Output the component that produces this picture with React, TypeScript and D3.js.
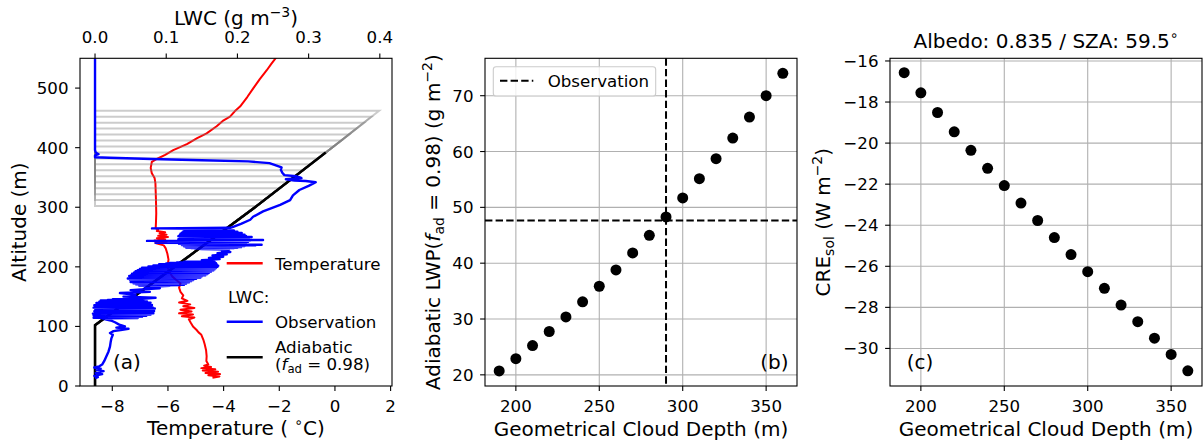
import { useEffect, useRef } from 'react';
import * as d3 from 'd3';

const W = 1203;
const H = 442;
const FONT = '"DejaVu Sans", sans-serif';
const TICK_FS = 16.67;
const LABEL_FS = 20;

// ---- panel (a): vertical profiles, [value, altitude (m)] ----
const temperatureProfile: [number, number][] = [
  [-4.40, 14], [-4.15, 16], [-4.55, 18], [-4.13, 20], [-4.65, 22], [-4.20, 24], [-4.75, 26],
  [-4.30, 28], [-4.80, 30], [-4.45, 32], [-4.70, 34], [-4.55, 36], [-4.62, 42], [-4.61, 50],
  [-4.63, 60], [-4.68, 70], [-4.73, 78], [-4.80, 86], [-4.90, 90], [-4.97, 94], [-5.10, 100],
  [-5.18, 106], [-5.25, 112], [-5.05, 115], [-5.50, 117], [-5.10, 120], [-5.60, 122],
  [-5.15, 125], [-5.55, 128], [-5.05, 131], [-5.45, 134], [-5.20, 137], [-5.60, 140],
  [-5.30, 143], [-5.50, 147], [-5.45, 152], [-5.55, 158], [-5.60, 165], [-5.55, 172],
  [-5.70, 178], [-5.85, 184], [-5.95, 192], [-6.02, 200], [-5.98, 212], [-6.02, 222],
  [-6.08, 231], [-6.15, 236], [-6.45, 240], [-6.05, 242], [-6.50, 244], [-6.10, 246],
  [-6.40, 248], [-6.00, 250], [-6.35, 252], [-6.05, 254], [-6.30, 256], [-6.10, 258],
  [-6.40, 260], [-6.35, 262], [-6.44, 265], [-6.43, 275], [-6.42, 290], [-6.43, 312],
  [-6.45, 340], [-6.48, 349], [-6.58, 357], [-6.62, 366], [-6.58, 376], [-6.40, 381],
  [-6.10, 388], [-5.81, 396], [-5.32, 406], [-4.95, 416], [-4.61, 424], [-4.25, 436],
  [-4.00, 446], [-3.77, 452], [-3.60, 461], [-3.41, 469], [-3.15, 485], [-2.93, 500],
  [-2.70, 515], [-2.45, 530], [-2.28, 541], [-2.10, 552],
];

// observed LWC, split by layer (ascending altitude)
const lwcBelowCloud: [number, number][] = [
  [0.000, 13], [0.004, 15], [-0.001, 17], [0.010, 20], [0.001, 22], [0.012, 25], [0.002, 27],
  [0.008, 29], [-0.001, 31], [0.006, 33], [0.010, 36], [0.013, 42], [0.016, 50], [0.019, 58],
  [0.021, 66], [0.022, 74], [0.023, 80], [0.025, 86], [0.021, 89], [0.026, 92], [0.036, 94],
  [0.047, 96], [0.030, 98], [0.042, 100], [0.034, 103], [0.028, 107], [0.022, 110], [0.010, 113],
];
const lwcLowerLayer: [number, number][] = [
  [0.060, 114], [-0.002, 114.5], [0.050, 115], [0.004, 115.5], [0.066, 116], [0.000, 116.5],
  [0.058, 117], [0.006, 117.5], [0.072, 118], [-0.002, 118.5], [0.064, 119], [0.003, 119.5],
  [0.078, 120], [0.008, 120.5], [0.070, 121], [-0.003, 121.5], [0.082, 122], [0.005, 122.5],
  [0.074, 123], [0.001, 123.5], [0.080, 124], [0.010, 124.5], [0.068, 125], [-0.001, 125.5],
  [0.083, 126], [0.006, 126.5], [0.071, 127], [0.002, 127.5], [0.079, 128], [0.012, 128.5],
  [0.066, 129], [0.000, 129.5], [0.084, 130], [0.007, 130.5], [0.073, 131], [-0.002, 131.5],
  [0.081, 132], [0.009, 132.5], [0.069, 133], [0.003, 133.5], [0.077, 134], [0.011, 134.5],
  [0.064, 135], [-0.001, 135.5], [0.080, 136], [0.008, 136.5], [0.070, 137], [0.004, 137.5],
  [0.075, 138], [0.013, 138.5], [0.062, 139], [0.002, 139.5], [0.078, 140], [0.010, 140.5],
  [0.067, 141], [0.006, 141.5], [0.073, 142], [0.015, 142.5], [0.060, 143], [0.008, 143.5],
  [0.068, 144], [0.018, 144.5], [0.055, 145], [0.025, 145.5], [0.062, 146],
  [0.085, 148], [0.040, 150], [0.057, 153], [0.035, 156], [0.077, 158], [0.050, 161],
  [0.091, 164], [0.070, 166], [0.105, 168],
];
const lwcMiddleLayer: [number, number][] = [
  [0.062, 168.5], [0.118, 169], [0.070, 169.5], [0.125, 170], [0.058, 170.5], [0.112, 171],
  [0.066, 171.5], [0.128, 172], [0.054, 172.5], [0.120, 173], [0.062, 173.5], [0.132, 174],
  [0.050, 174.5], [0.118, 175], [0.060, 175.5], [0.135, 176], [0.052, 176.5], [0.125, 177],
  [0.057, 177.5], [0.138, 178], [0.049, 178.5], [0.130, 179], [0.055, 179.5], [0.142, 180],
  [0.046, 180.5], [0.136, 181], [0.053, 181.5], [0.148, 182], [0.050, 182.5], [0.140, 183],
  [0.056, 183.5], [0.150, 184], [0.048, 184.5], [0.144, 185], [0.055, 185.5], [0.155, 186],
  [0.051, 186.5], [0.147, 187], [0.058, 187.5], [0.158, 188], [0.052, 188.5], [0.150, 189],
  [0.060, 189.5], [0.160, 190], [0.055, 190.5], [0.152, 191], [0.062, 191.5], [0.163, 192],
  [0.057, 192.5], [0.155, 193], [0.064, 193.5], [0.166, 194], [0.060, 194.5], [0.158, 195],
  [0.068, 195.5], [0.168, 196], [0.063, 196.5], [0.160, 197], [0.072, 197.5], [0.170, 198],
  [0.066, 198.5], [0.162, 199], [0.078, 199.5], [0.172, 200], [0.075, 200.5], [0.165, 201],
  [0.085, 201.5], [0.173, 202], [0.082, 202.5], [0.166, 203], [0.092, 203.5], [0.171, 204],
  [0.090, 204.5], [0.163, 205], [0.100, 205.5], [0.170, 206], [0.105, 206.5], [0.160, 207],
  [0.115, 207.5], [0.168, 208], [0.125, 208.5], [0.158, 209], [0.165, 210],
  [0.150, 211], [0.175, 213], [0.160, 215], [0.180, 217], [0.165, 219], [0.185, 221],
  [0.172, 223], [0.190, 225], [0.178, 227], [0.188, 229], [0.150, 230],
];
const lwcUpperLayer: [number, number][] = [
  [0.140, 230.5], [0.195, 231], [0.135, 231.5], [0.200, 232], [0.128, 232.5], [0.205, 233],
  [0.132, 233.5], [0.198, 234], [0.125, 234.5], [0.210, 235], [0.130, 235.5], [0.225, 236],
  [0.122, 236.5], [0.234, 237], [0.128, 237.5], [0.208, 238], [0.118, 238.5], [0.212, 239],
  [0.124, 239.5], [0.205, 240], [0.085, 240.5], [0.200, 241], [0.120, 241.5], [0.215, 242],
  [0.115, 242.5], [0.210, 243], [0.073, 243.5], [0.218, 244], [0.120, 244.5], [0.236, 245],
  [0.125, 245.5], [0.212, 246], [0.117, 246.5], [0.205, 247], [0.122, 247.5], [0.216, 248],
  [0.119, 248.5], [0.208, 249], [0.126, 249.5], [0.220, 250], [0.121, 250.5], [0.202, 251],
  [0.117, 251.5], [0.212, 252], [0.124, 252.5], [0.198, 253], [0.119, 253.5], [0.210, 254],
  [0.127, 254.5], [0.204, 255], [0.120, 255.5], [0.195, 256], [0.125, 256.5], [0.206, 257],
  [0.122, 257.5], [0.192, 258], [0.128, 258.5], [0.200, 259], [0.124, 259.5], [0.188, 260],
  [0.130, 260.5], [0.195, 261], [0.126, 261.5], [0.182, 262], [0.133, 262.5], [0.178, 263],
  [0.128, 263.5], [0.165, 264], [0.080, 264.5], [0.120, 265], [0.190, 265.5], [0.194, 267],
];
const lwcAboveLayer: [number, number][] = [
  [0.205, 272], [0.218, 279], [0.222, 284], [0.236, 293], [0.260, 304], [0.274, 312],
  [0.278, 320], [0.287, 329], [0.300, 336], [0.310, 342], [0.296, 344], [0.280, 345],
  [0.268, 347], [0.290, 349], [0.283, 352], [0.266, 354], [0.263, 358], [0.261, 363],
  [0.262, 367], [0.255, 370], [0.245, 374], [0.215, 377], [0.150, 379], [0.080, 381],
  [0.020, 383], [0.000, 384], [0.000, 387], [0.005, 389], [0.001, 392], [0.000, 396],
  [0.000, 550],
];
const lwcObserved = [...lwcBelowCloud, ...lwcLowerLayer, ...lwcMiddleLayer, ...lwcUpperLayer, ...lwcAboveLayer];

// adiabatic LWC (f_ad = 0.98) above cloud base
const cloudBase = 102;
const adiabaticAlt = [102, 202, 302, 352, 402, 462];
const adiabaticLwc = [0, 0.114, 0.227, 0.281, 0.335, 0.399];
const cloudTops = [302, 312, 322, 332, 342, 352, 362, 372, 382, 392, 402, 412, 422, 432, 442, 452, 462];
const cloudTopLwc = [0.227, 0.238, 0.249, 0.260, 0.270, 0.281, 0.292, 0.303, 0.314, 0.324, 0.335, 0.346, 0.357, 0.367, 0.378, 0.388, 0.399];
const observedTop = 392;
const observedTopLwc = 0.324;

// ---- panels (b) and (c) ----
const cloudDepth = [190, 200, 210, 220, 230, 240, 250, 260, 270, 280, 290, 300, 310, 320, 330, 340, 350, 360];
const adiabaticLwp = [20.7, 22.9, 25.25, 27.76, 30.38, 33.07, 35.87, 38.8, 41.84, 45.0, 48.28, 51.68, 55.14, 58.72, 62.42, 66.18, 70.0, 74.0];
const creSol = [-16.57, -17.55, -18.51, -19.45, -20.35, -21.23, -22.07, -22.92, -23.77, -24.60, -25.43, -26.26, -27.07, -27.89, -28.70, -29.50, -30.29, -31.09];
const observedDepth = 290;
const observedLwp = 47.65;

const tempTicks = [-8, -6, -4, -2, 0, 2];
const lwcTicks = [0, 0.1, 0.2, 0.3, 0.4];
const altTicks = [0, 100, 200, 300, 400, 500];
const depthTicks = [200, 250, 300, 350];
const lwpTicks = [20, 30, 40, 50, 60, 70];
const creTicks = [-30, -28, -26, -24, -22, -20, -18, -16];

const TOP = 58.3;
const BOTTOM = 386;
const PANELS = [80, 485, 890];
const PW = 312;
const TL = 4.9;

const minus = (v: number, digits = 0) => {
  const s = Math.abs(v).toFixed(digits);
  return v < 0 ? '\u2212' + s : s;
};

type Part = { t: string; sup?: boolean; sub?: boolean; it?: boolean };

function rich(sel: any, parts: Part[], fs: number) {
  let shift = 0;
  parts.forEach((p) => {
    const target = p.sup ? -fs * 0.4 : p.sub ? fs * 0.22 : 0;
    const ts = sel.append('tspan').attr('dy', target - shift).text(p.t);
    if (p.sup || p.sub) ts.attr('font-size', fs * 0.7);
    if (p.it) ts.attr('font-style', 'italic');
    shift = target;
  });
}

function frame(g: any, x0: number) {
  g.append('rect')
    .attr('x', x0).attr('y', TOP).attr('width', PW).attr('height', BOTTOM - TOP)
    .attr('fill', 'none').attr('stroke', 'black').attr('stroke-width', 1.1);
}

function bottomAxis(g: any, scale: any, ticks: number[], fmt: (v: number) => string) {
  const a = g.append('g');
  ticks.forEach((v) => {
    const x = scale(v);
    a.append('line').attr('x1', x).attr('x2', x).attr('y1', BOTTOM).attr('y2', BOTTOM + TL)
      .attr('stroke', 'black').attr('stroke-width', 1.1);
    a.append('text').attr('x', x).attr('y', 411.5).attr('text-anchor', 'middle')
      .attr('font-size', TICK_FS).text(fmt(v));
  });
}

function leftAxis(g: any, scale: any, x0: number, ticks: number[], fmt: (v: number) => string) {
  const a = g.append('g');
  ticks.forEach((v) => {
    const y = scale(v);
    a.append('line').attr('x1', x0 - TL).attr('x2', x0).attr('y1', y).attr('y2', y)
      .attr('stroke', 'black').attr('stroke-width', 1.1);
    a.append('text').attr('x', x0 - 11.5).attr('y', y + 6).attr('text-anchor', 'end')
      .attr('font-size', TICK_FS).text(fmt(v));
  });
}

function grid(g: any, xs: any, ys: any, xt: number[], yt: number[], x0: number) {
  const gg = g.append('g').attr('stroke', '#b0b0b0').attr('stroke-width', 1.1);
  xt.forEach((v) => gg.append('line').attr('x1', xs(v)).attr('x2', xs(v)).attr('y1', TOP).attr('y2', BOTTOM));
  yt.forEach((v) => gg.append('line').attr('x1', x0).attr('x2', x0 + PW).attr('y1', ys(v)).attr('y2', ys(v)));
}

const App = () => {
  const svgRef = useRef<SVGSVGElement | null>(null);

  useEffect(() => {
    if (!svgRef.current) return;
    const svg = d3.select(svgRef.current);
    svg.selectAll('*').remove();
    svg.append('rect').attr('width', W).attr('height', H).attr('fill', 'white');
    const root = svg.append('g').attr('font-family', FONT).attr('fill', 'black');

    // ================= panel (a) =================
    const xa = PANELS[0];
    const xT = d3.scaleLinear().domain([-9.16, 2.05]).range([xa, xa + PW]);
    const xL = d3.scaleLinear().domain([-0.0211, 0.4171]).range([xa, xa + PW]);
    const yA = d3.scaleLinear().domain([0, 550]).range([BOTTOM, TOP]);

    root.append('clipPath').attr('id', 'clipA').append('rect')
      .attr('x', xa).attr('y', TOP).attr('width', PW).attr('height', BOTTOM - TOP);
    const pa = root.append('g').attr('clip-path', 'url(#clipA)');

    const lineT = d3.line<[number, number]>().x((d) => xT(d[0])).y((d) => yA(d[1]));
    const lineL = d3.line<[number, number]>().x((d) => xL(d[0])).y((d) => yA(d[1]));

    pa.append('path').datum(temperatureProfile).attr('d', lineT)
      .attr('fill', 'none').attr('stroke', 'red').attr('stroke-width', 2).attr('stroke-linejoin', 'round');

    // adiabatic profiles for the range of cloud tops
    const adiabaticProfile = (top: number, topLwc: number, closeTop: boolean): [number, number][] => {
      const pts: [number, number][] = [[0, 0], [0, cloudBase]];
      adiabaticAlt.forEach((z, i) => {
        if (z > cloudBase && z < top) pts.push([adiabaticLwc[i], z]);
      });
      pts.push([topLwc, top]);
      if (closeTop) pts.push([0, top], [0, 550]);
      return pts;
    };
    cloudTops.forEach((top, i) => {
      pa.append('path').datum(adiabaticProfile(top, cloudTopLwc[i], true)).attr('d', lineL)
        .attr('fill', 'none').attr('stroke', '#808080').attr('stroke-opacity', 0.4)
        .attr('stroke-width', 2);
    });
    pa.append('path').datum(adiabaticProfile(observedTop, observedTopLwc, false)).attr('d', lineL)
      .attr('fill', 'none').attr('stroke', 'black').attr('stroke-width', 2.6);

    pa.append('path').datum(lwcObserved).attr('d', lineL)
      .attr('fill', 'none').attr('stroke', 'blue').attr('stroke-width', 2.4).attr('stroke-linejoin', 'round');

    frame(root, xa);
    bottomAxis(root, xT, tempTicks, (v) => minus(v));
    leftAxis(root, yA, xa, altTicks, (v) => String(v));
    // top LWC axis
    lwcTicks.forEach((v) => {
      const x = xL(v);
      root.append('line').attr('x1', x).attr('x2', x).attr('y1', TOP - TL).attr('y2', TOP)
        .attr('stroke', 'black').attr('stroke-width', 1.1);
      root.append('text').attr('x', x).attr('y', 43.3).attr('text-anchor', 'middle')
        .attr('font-size', TICK_FS).text(v.toFixed(1));
    });

    rich(root.append('text').attr('x', xa + PW / 2).attr('y', 24.6).attr('text-anchor', 'middle')
      .attr('font-size', LABEL_FS), [{ t: 'LWC (g m' }, { t: '\u22123', sup: true }, { t: ')' }], LABEL_FS);
    rich(root.append('text').attr('x', xa + PW / 2).attr('y', 435).attr('text-anchor', 'middle')
      .attr('font-size', LABEL_FS), [{ t: 'Temperature ( ' }, { t: '\u2218', sup: true }, { t: 'C)' }], LABEL_FS);
    root.append('text').attr('transform', `translate(25.6,${(TOP + BOTTOM) / 2}) rotate(-90)`)
      .attr('text-anchor', 'middle').attr('font-size', LABEL_FS).text('Altitude (m)');
    root.append('text').attr('x', 113).attr('y', 369).attr('font-size', LABEL_FS).text('(a)');

    // legend (a)
    const lg = root.append('g').attr('font-size', TICK_FS);
    const hx0 = 226.7;
    const hx1 = 262.7;
    lg.append('line').attr('x1', hx0).attr('x2', hx1).attr('y1', 263.3).attr('y2', 263.3)
      .attr('stroke', 'red').attr('stroke-width', 2.4);
    lg.append('text').attr('x', 275).attr('y', 269.5).text('Temperature');
    lg.append('text').attr('x', 228).attr('y', 303).text('LWC:');
    lg.append('line').attr('x1', hx0).attr('x2', hx1).attr('y1', 321.7).attr('y2', 321.7)
      .attr('stroke', 'blue').attr('stroke-width', 2.4);
    lg.append('text').attr('x', 275).attr('y', 328).text('Observation');
    lg.append('line').attr('x1', hx0).attr('x2', hx1).attr('y1', 357.3).attr('y2', 357.3)
      .attr('stroke', 'black').attr('stroke-width', 2.6);
    lg.append('text').attr('x', 275).attr('y', 352.5).text('Adiabatic');
    rich(lg.append('text').attr('x', 275).attr('y', 369.5),
      [{ t: '(' }, { t: 'f', it: true }, { t: 'ad', sub: true }, { t: ' = 0.98)' }], TICK_FS);

    // ================= panel (b) =================
    const xb0 = PANELS[1];
    const xb = d3.scaleLinear().domain([181.5, 368.5]).range([xb0, xb0 + PW]);
    const yb = d3.scaleLinear().domain([18.0, 76.7]).range([BOTTOM, TOP]);
    grid(root, xb, yb, depthTicks, lwpTicks, xb0);

    const dash = '7.4 3.2';
    root.append('line').attr('x1', xb(observedDepth)).attr('x2', xb(observedDepth))
      .attr('y1', TOP).attr('y2', BOTTOM)
      .attr('stroke', 'black').attr('stroke-width', 2).attr('stroke-dasharray', dash);
    root.append('line').attr('x1', xb0).attr('x2', xb0 + PW)
      .attr('y1', yb(observedLwp)).attr('y2', yb(observedLwp))
      .attr('stroke', 'black').attr('stroke-width', 2).attr('stroke-dasharray', dash);

    root.append('g').selectAll('circle').data(cloudDepth).join('circle')
      .attr('cx', (d) => xb(d)).attr('cy', (d, i) => yb(adiabaticLwp[i])).attr('r', 5.5).attr('fill', 'black');

    frame(root, xb0);
    bottomAxis(root, xb, depthTicks, (v) => String(v));
    leftAxis(root, yb, xb0, lwpTicks, (v) => String(v));

    // legend (b)
    root.append('rect').attr('x', 493.3).attr('y', 66.7).attr('width', 162.4).attr('height', 29.3)
      .attr('rx', 2.8).attr('fill', 'white').attr('fill-opacity', 0.8)
      .attr('stroke', '#cccccc').attr('stroke-width', 1.1);
    root.append('line').attr('x1', 500).attr('x2', 533.3).attr('y1', 80.7).attr('y2', 80.7)
      .attr('stroke', 'black').attr('stroke-width', 2).attr('stroke-dasharray', dash);
    root.append('text').attr('x', 547.7).attr('y', 86.8).attr('font-size', TICK_FS).text('Observation');

    rich(root.append('text').attr('transform', `translate(440,${(TOP + BOTTOM) / 2}) rotate(-90)`)
      .attr('text-anchor', 'middle').attr('font-size', LABEL_FS),
      [{ t: 'Adiabatic LWP(' }, { t: 'f', it: true }, { t: 'ad', sub: true }, { t: ' = 0.98) (g m' },
        { t: '\u22122', sup: true }, { t: ')' }], LABEL_FS);
    rich(root.append('text').attr('x', xb0 + PW / 2).attr('y', 436).attr('text-anchor', 'middle')
      .attr('font-size', LABEL_FS), [{ t: 'Geometrical Cloud Depth (m)' }], LABEL_FS);
    root.append('text').attr('x', 788.5).attr('y', 369).attr('text-anchor', 'end')
      .attr('font-size', LABEL_FS).text('(b)');

    // ================= panel (c) =================
    const xc0 = PANELS[2];
    const xc = d3.scaleLinear().domain([181.5, 368.5]).range([xc0, xc0 + PW]);
    const yc = d3.scaleLinear().domain([-31.83, -15.87]).range([BOTTOM, TOP]);
    grid(root, xc, yc, depthTicks, creTicks, xc0);

    root.append('g').selectAll('circle').data(cloudDepth).join('circle')
      .attr('cx', (d) => xc(d)).attr('cy', (d, i) => yc(creSol[i])).attr('r', 5.5).attr('fill', 'black');

    frame(root, xc0);
    bottomAxis(root, xc, depthTicks, (v) => String(v));
    leftAxis(root, yc, xc0, creTicks, (v) => minus(v));

    rich(root.append('text').attr('transform', `translate(830,${(TOP + BOTTOM) / 2}) rotate(-90)`)
      .attr('text-anchor', 'middle').attr('font-size', LABEL_FS),
      [{ t: 'CRE' }, { t: 'sol', sub: true }, { t: ' (W m' }, { t: '\u22122', sup: true }, { t: ')' }], LABEL_FS);
    rich(root.append('text').attr('x', xc0 + PW / 2).attr('y', 436).attr('text-anchor', 'middle')
      .attr('font-size', LABEL_FS), [{ t: 'Geometrical Cloud Depth (m)' }], LABEL_FS);
    rich(root.append('text').attr('x', xc0 + PW / 2).attr('y', 48).attr('text-anchor', 'middle')
      .attr('font-size', LABEL_FS), [{ t: 'Albedo: 0.835 / SZA: 59.5' }, { t: '\u2218', sup: true }], LABEL_FS);
    root.append('text').attr('x', 906.7).attr('y', 369).attr('font-size', LABEL_FS).text('(c)');
  }, []);

  return (
    <svg
      ref={svgRef}
      width={W}
      height={H}
      style={{ position: 'absolute', left: 0, top: 0, display: 'block' }}
    />
  );
};

export default App;
